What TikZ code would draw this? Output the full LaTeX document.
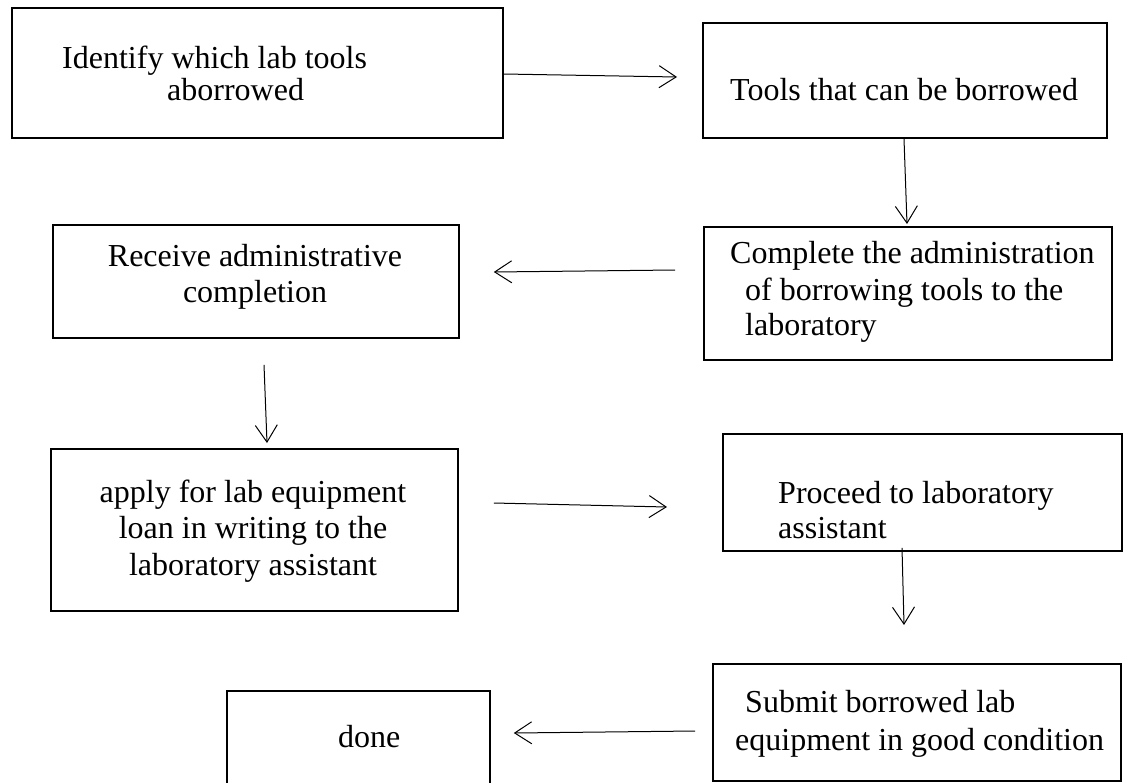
\documentclass[tikz,border=0pt]{standalone}
\usepackage{fontspec}
\setmainfont{Liberation Serif}
\usetikzlibrary{arrows.meta,calc}
\begin{document}
\begin{tikzpicture}[x=1pt,y=-1pt,
  box/.style={draw=black, line width=1.8pt, rectangle, inner sep=0pt, anchor=north west},
  lbl/.style={anchor=base west, inner sep=0pt, font=\fontsize{32}{36}\selectfont},
  clbl/.style={lbl, anchor=base},
  flow/.style={line width=1pt, -{Straight Barb[length=17pt,width=22pt,line width=1pt]}}]
\useasboundingbox (0,0) rectangle (1124,782);
\clip (0,0) rectangle (1124,782);
\fill[white] (0,0) rectangle (1124,782);

% process boxes
\node[box, minimum width=491pt, minimum height=130pt] (b1) at (11,7) {};
\node[box, minimum width=404pt, minimum height=115pt] (b2) at (702,22) {};
\node[box, minimum width=408pt, minimum height=133pt] (b3) at (703,226) {};
\node[box, minimum width=406pt, minimum height=113pt] (b4) at (52,224) {};
\node[box, minimum width=407pt, minimum height=162pt] (b5) at (50,448) {};
\node[box, minimum width=399pt, minimum height=117pt] (b6) at (722,433) {};
\node[box, minimum width=408pt, minimum height=117pt] (b7) at (712,663) {};
\node[box, minimum width=263pt, minimum height=130pt] (b8) at (226,690) {};

% box texts
\node[lbl] (t1a) at (62,68) {Identify which lab tools};
\node[lbl] (t1b) at (167,100) {aborrowed};
\node[lbl] (t2) at (730,100) {Tools that can be borrowed};
\node[lbl] (t3a) at (730,263) {Complete the administration};
\node[lbl] (t3b) at (745,300) {of borrowing tools to the};
\node[lbl] (t3c) at (745,335) {laboratory};
\node[clbl] (t4a) at (255,266) {Receive administrative};
\node[clbl] (t4b) at (255,302) {completion};
\node[clbl] (t5a) at (253,502) {apply for lab equipment};
\node[clbl] (t5b) at (253,538) {loan in writing to the};
\node[clbl] (t5c) at (253,575) {laboratory assistant};
\node[lbl] (t6a) at (778,503) {Proceed to laboratory};
\node[lbl] (t6b) at (778,538) {assistant};
\node[lbl] (t7a) at (745,712) {Submit borrowed lab};
\node[lbl] (t7b) at (735,750) {equipment in good condition};
\node[lbl] (t8) at (338,747) {done};

% flow arrows
\draw[flow] ($(b1.north east)+(0,67)$) -- ($(b2.north west)+(-25,55)$);
\draw[flow] ($(b2.south west)+(202,0)$) -- ($(b3.north west)+(204,-2)$);
\draw[flow] ($(b3.north west)+(-28,44)$) -- ($(b4.north east)+(34,48)$);
\draw[flow] ($(b4.south west)+(212,26)$) -- ($(b5.north west)+(217,-5)$);
\draw[flow] ($(b5.north east)+(35,55)$) -- ($(b6.north west)+(-55,74)$);
\draw[flow] ($(b6.south west)+(180,-4)$) -- ($(b7.north west)+(192,-38)$);
\draw[flow] ($(b7.north west)+(-17,68)$) -- ($(b8.north east)+(23,43)$);
\end{tikzpicture}
\end{document}
